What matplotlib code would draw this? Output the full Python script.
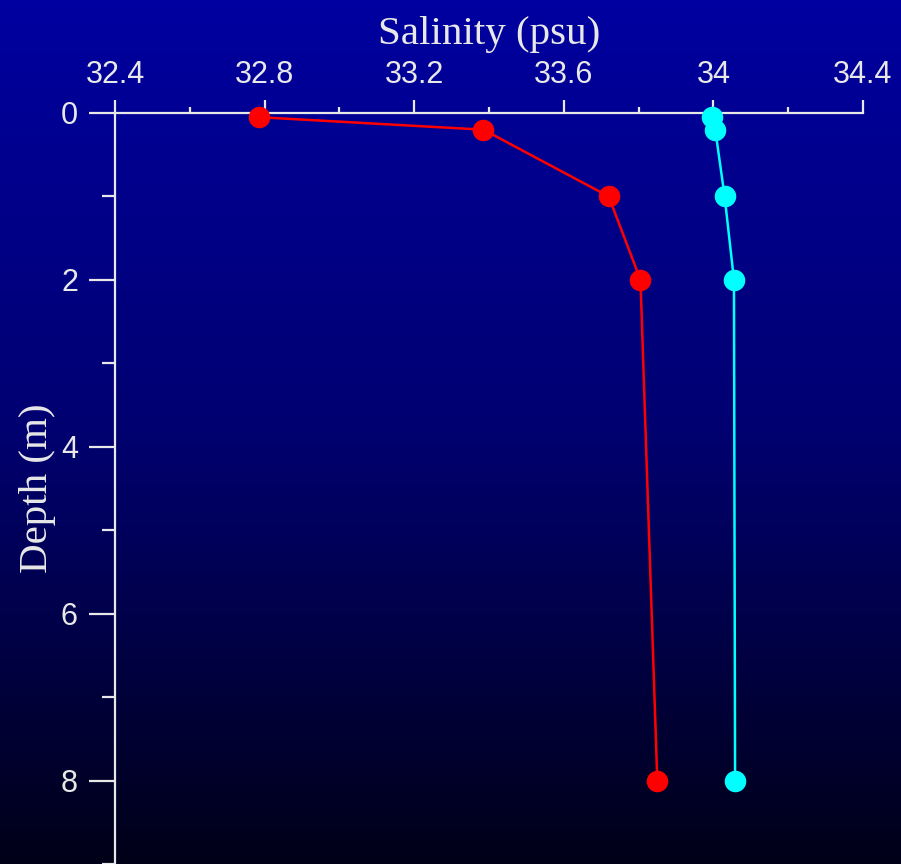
import matplotlib.pyplot as plt
import numpy as np
from matplotlib.colors import LinearSegmentedColormap
from matplotlib.ticker import MultipleLocator

# Salinity profiles (psu) against depth (m)
depth = [0.05, 0.2, 1.0, 2.0, 8.0]
sal_red = [32.785, 33.385, 33.72, 33.805, 33.85]
sal_cyan = [33.995, 34.005, 34.03, 34.055, 34.058]

fg = '#e8e8e8'

fig = plt.figure(figsize=(9.01, 8.64), dpi=100)

# background gradient, bright blue at top fading to near black
bg = fig.add_axes([0, 0, 1, 1], zorder=-1)
grad = np.linspace(0, 1, 256).reshape(-1, 1)
cmap = LinearSegmentedColormap.from_list('sea', ['#0000a0', '#000070', '#000018'])
bg.imshow(grad, aspect='auto', cmap=cmap, extent=[0, 1, 0, 1], origin='upper')
bg.axis('off')

ax = fig.add_axes([115 / 901, 0.0, (863 - 115) / 901, 1 - 113 / 864])
ax.patch.set_alpha(0)

ax.plot(sal_red, depth, '-o', color='#ff0000', lw=1.8, ms=14.5, clip_on=False, zorder=3)
ax.plot(sal_cyan, depth, '-o', color='#00ffff', lw=1.8, ms=14.5, clip_on=False, zorder=3)

ax.set_xlim(32.4, 34.4)
ax.set_ylim(9, 0)

ax.xaxis.set_ticks_position('top')
ax.xaxis.set_label_position('top')
ax.xaxis.set_minor_locator(MultipleLocator(0.2))
ax.yaxis.set_minor_locator(MultipleLocator(1))
ax.set_xticks(np.arange(32.4, 34.41, 0.4))
ax.set_xticklabels(['32.4', '32.8', '33.2', '33.6', '34', '34.4'])
ax.set_yticks([0, 2, 4, 6, 8])

for s in ['right', 'bottom']:
    ax.spines[s].set_visible(False)
for s in ['left', 'top']:
    ax.spines[s].set_color(fg)
    ax.spines[s].set_linewidth(1.6)

ax.tick_params(axis='x', which='major', length=9.4, width=1.6, color=fg,
               labelcolor=fg, labelsize=22, pad=7.5)
ax.tick_params(axis='x', which='minor', length=4.5, width=1.6, color=fg)
ax.tick_params(axis='y', which='major', length=18.7, width=1.6, color=fg,
               labelcolor=fg, labelsize=22, pad=8)
ax.tick_params(axis='y', which='minor', length=9.4, width=1.6, color=fg)
for lab in ax.get_xticklabels() + ax.get_yticklabels():
    lab.set_family('Liberation Sans')

ax.set_xlabel('Salinity (psu)', fontsize=29.5, color=fg, family='Liberation Serif', labelpad=11)
ax.set_ylabel('Depth (m)', fontsize=29.5, color=fg, family='Liberation Serif')
ax.yaxis.set_label_coords(-0.079, 0.5)

fig.savefig('out.png', dpi=100)
